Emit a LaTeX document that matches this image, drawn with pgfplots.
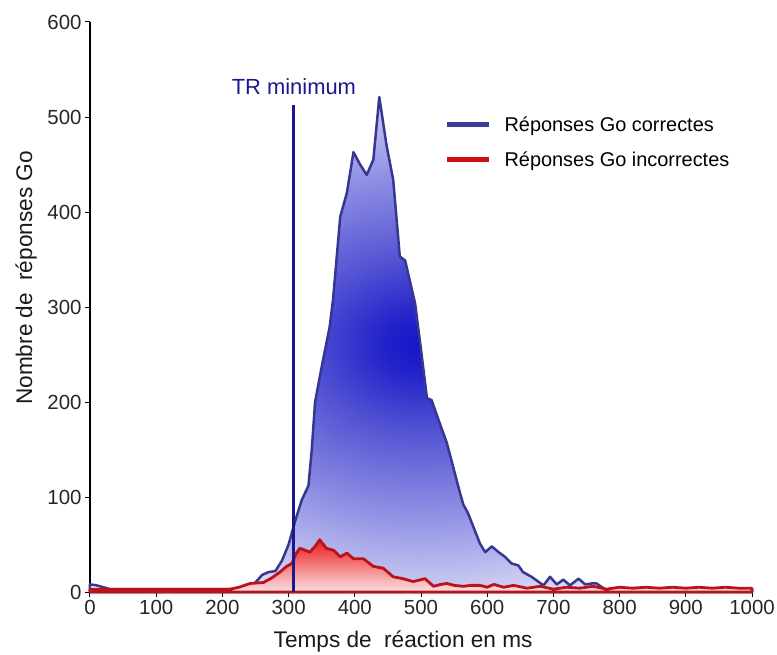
\documentclass[border=0pt]{standalone}
\usepackage{fontspec}
\setmainfont{Liberation Sans}
\usepackage{pgfplots}
\pgfplotsset{compat=1.18}
\definecolor{bluel}{RGB}{55,55,145}
\definecolor{bluedark}{RGB}{22,22,200}
\definecolor{bluedark2}{RGB}{35,35,202}
\definecolor{bluemid}{RGB}{85,85,212}
\definecolor{bluemid2}{RGB}{150,150,230}
\definecolor{bluelight}{RGB}{205,205,243}
\definecolor{blueout}{RGB}{238,238,251}
\definecolor{redl}{RGB}{185,20,28}
\definecolor{redtop}{RGB}{235,28,28}
\definecolor{redbot}{RGB}{252,225,228}
\definecolor{navy}{RGB}{25,25,140}
\definecolor{legblue}{RGB}{60,60,155}
\definecolor{legred}{RGB}{205,15,20}
\pgfdeclareradialshading{bluerad}{\pgfpoint{0bp}{0bp}}{color(0bp)=(bluedark); color(3bp)=(bluedark2); color(9bp)=(bluemid); color(18bp)=(bluemid2); color(25bp)=(bluelight); color(30bp)=(blueout); color(50bp)=(blueout)}
\begin{document}
\begin{tikzpicture}[font=\fontsize{20.5}{24}\selectfont]
\useasboundingbox (-90bp,-63bp) rectangle (687bp,592bp);
\begin{axis}[
  at={(0,0)}, anchor=south west,
  scale only axis, width=662bp, height=570bp,
  xmin=0, xmax=1000, ymin=0, ymax=600,
  axis lines*=left,
  xtick={0,100,...,1000}, ytick={0,100,...,600},
  tick align=outside, major tick length=5bp,
  tick style={black, line width=1bp},
  axis line style={black, line width=1.5bp},
  /pgf/number format/assume math mode=true,
  /pgf/number format/1000 sep={},
  ticklabel style={text=black!85, font=\fontsize{20.5}{24}\selectfont},
  xlabel={Temps de\hspace{0.55em}réaction en ms},
  ylabel={Nombre de\hspace{0.55em}réponses Go},
  label style={font=\fontsize{22.7}{27}\selectfont, text=black!90},
  xlabel style={at={(axis description cs:0.473,-0.0965)}, anchor=base},
  ylabel style={at={(axis description cs:-0.0876,0.551)}, anchor=base, rotate=0},
  clip=false,
  legend cell align=left,
  legend style={draw=none, fill=none, at={(axis cs:530,505)}, anchor=north west,
    row sep=15bp, font=\fontsize{20}{24}\selectfont,
    /tikz/every odd column/.append style={column sep=11bp}},
]
\addplot[draw=bluel, line width=2.5bp, line join=round, shading=bluerad, forget plot] coordinates {
(0,8) (10,7) (20,5) (30,3) (40,3) (80,3) (120,3) (160,3) (200,3) (230,3) (240,4)
(250,10) (260,18) (270,21) (280,22) (290,33) (300,50) (310,75) (320,97) (330,112)
(335,150) (340,200) (350,237) (362,279) (367,307) (378,395) (388,420) (398,463)
(408,450) (418,439) (428,455) (437,521) (448,470) (458,434) (468,353) (476,349)
(491,304) (500,255) (509,204) (516,202) (527,180) (539,157) (550,128) (559,104)
(564,92) (571,83) (580,67) (589,51) (597,42) (607,48) (617,42) (627,37) (637,30)
(647,28) (654,21) (667,16) (677,11) (685,7) (695,16) (705,8) (715,13) (725,7)
(738,14) (748,8) (758,9) (765,9) (780,2) (800,3) (820,4) (840,4) (860,3) (880,3)
(900,3) (920,3) (940,3) (960,5) (970,3) (1000,3)
} \closedcycle;
\addplot[draw=redl, line width=2.8bp, line join=round, top color=redtop, bottom color=redbot, forget plot] coordinates {
(0,3) (50,3) (100,3) (150,3) (200,3) (212,3) (225,5) (242,9) (262,10) (275,15)
(287,21) (297,27) (305,30) (311,40) (317,46) (325,44) (332,42) (340,48) (347,55)
(357,46) (368,44) (378,37) (388,41) (398,35) (413,35) (428,27) (443,25) (458,16)
(473,14) (488,11) (506,14) (519,6) (530,8) (539,9) (550,7) (564,6) (575,7) (589,7)
(600,5) (610,8) (625,5) (640,7) (660,4) (680,6) (700,3) (720,5) (740,4) (760,6)
(780,3) (800,5) (820,4) (840,5) (860,4) (880,5) (900,4) (920,5) (940,4) (960,5)
(980,4) (1000,4)
} \closedcycle;
\addplot[navy, line width=3bp, forget plot] coordinates {(307,0) (307,513)};
\node[text=navy, anchor=base, font=\fontsize{22}{26}\selectfont] at (axis cs:308,524) {TR minimum};
\addlegendimage{legend image code/.code={\draw[legblue, line width=5.5bp] (0bp,0bp) -- (42bp,0bp);}}
\addlegendentry{Réponses Go correctes}
\addlegendimage{legend image code/.code={\draw[legred, line width=5.5bp] (0bp,0bp) -- (42bp,0bp);}}
\addlegendentry{Réponses Go incorrectes}
\end{axis}
\end{tikzpicture}
\end{document}
